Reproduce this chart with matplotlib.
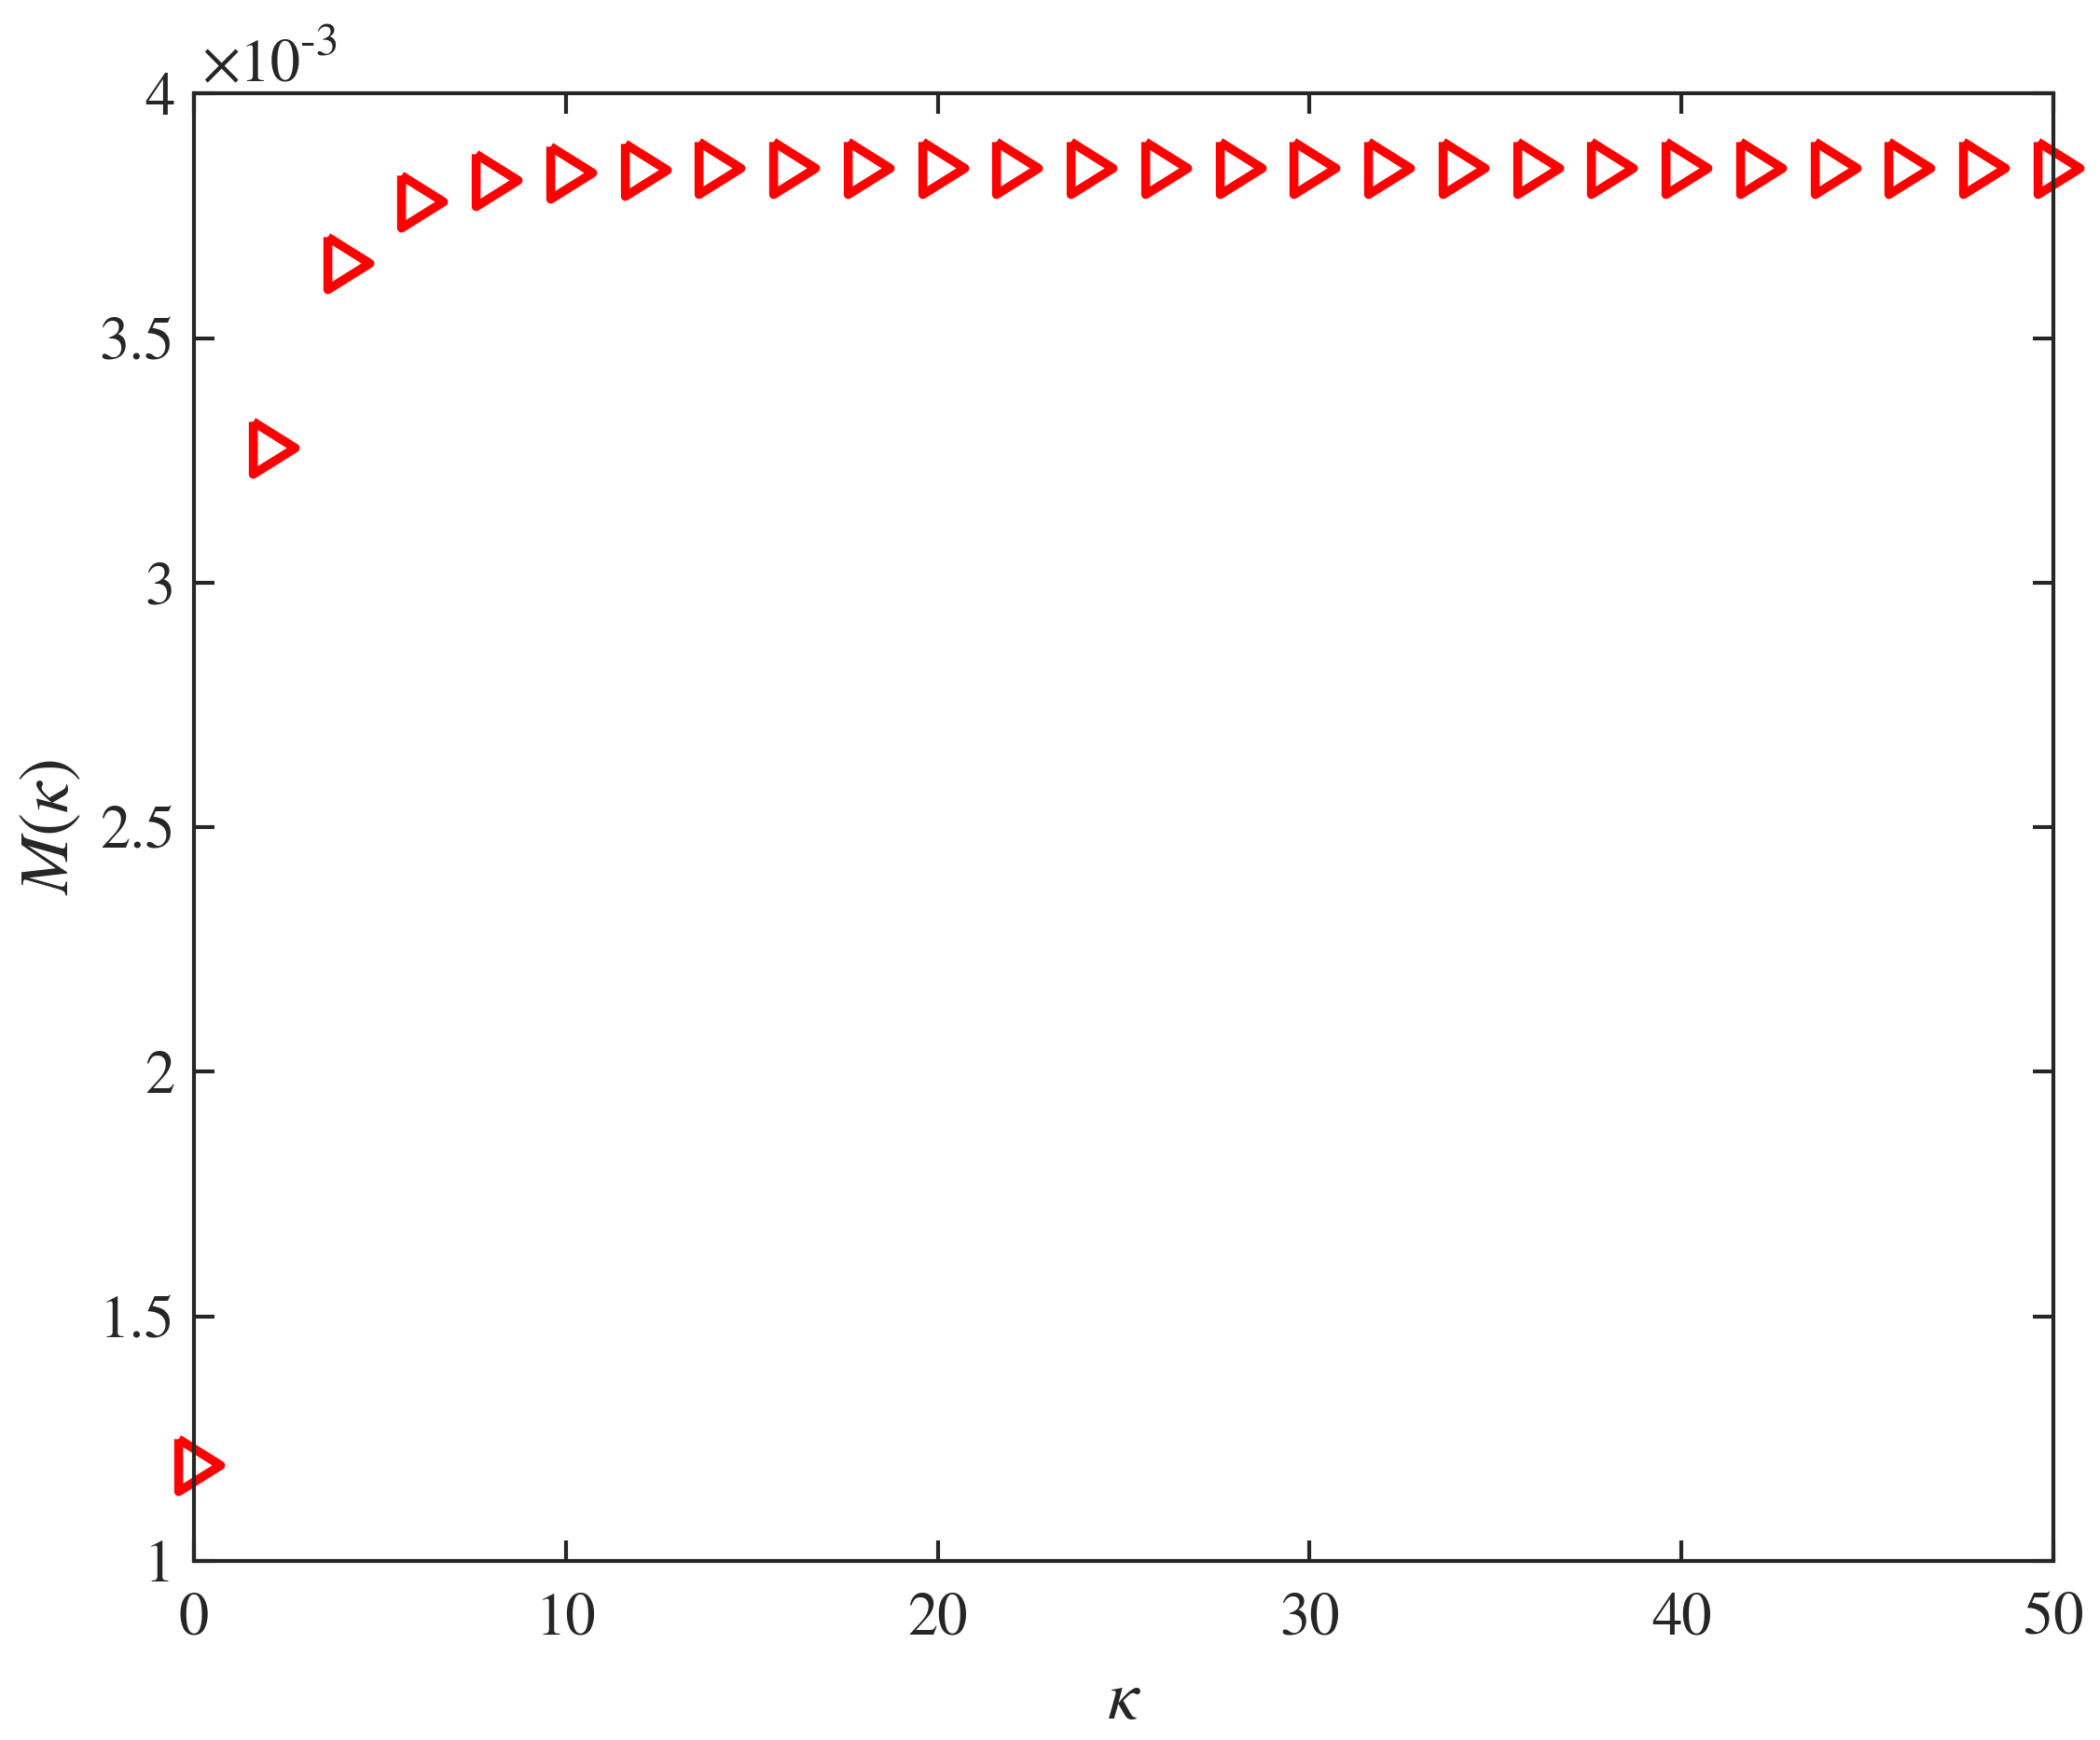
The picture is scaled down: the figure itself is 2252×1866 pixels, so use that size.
import numpy as np
import matplotlib
matplotlib.use('Agg')
import matplotlib.pyplot as plt

plt.rcParams['font.family'] = ['STIXGeneral', 'Liberation Serif', 'DejaVu Serif']
plt.rcParams['mathtext.fontset'] = 'stix'

# kappa values and M(kappa) in units of 1e-3
kappa = np.arange(0, 51, 2)
M = [1.196, 3.276, 3.654, 3.779, 3.823, 3.839, 3.845, 3.848, 3.848, 3.849,
     3.849, 3.849, 3.849, 3.849, 3.849, 3.849, 3.849, 3.849, 3.849, 3.849,
     3.849, 3.849, 3.849, 3.849, 3.849, 3.849]

xticks = [0, 10, 20, 30, 40, 50]
yticks = [1, 1.5, 2, 2.5, 3, 3.5, 4]
ytick_labels = ['1', '1.5', '2', '2.5', '3', '3.5', '4']

dark = '#262626'
fig = plt.figure(figsize=(2252/300, 1866/300), dpi=300)
ax = fig.add_axes([0.0924, 0.1029, 0.8854, 0.8433])

# open right-pointing triangle, slightly offset like MATLAB's '>' marker
tri = [(-0.6, 1), (1, 0), (-0.6, -1), (-0.6, 1)]
ax.plot(kappa, M, linestyle='none', marker=tri, markersize=13.5,
        markerfacecolor='none', markeredgecolor='#ff0000', markeredgewidth=2.3,
        clip_on=False)

ax.set_xlim(0, 50)
ax.set_ylim(1, 4)
ax.set_xticks(xticks)
ax.set_yticks(yticks)
ax.set_yticklabels(ytick_labels)
ax.tick_params(direction='in', length=5.3, width=1, colors=dark, labelsize=15.5,
               top=True, right=True)
ax.tick_params(axis='x', pad=8)
ax.tick_params(axis='y', pad=5)
for s in ax.spines.values():
    s.set_linewidth(1)
    s.set_color(dark)

ax.set_xlabel(r'$\kappa$', fontsize=18, color=dark, labelpad=6)
ax.set_ylabel(r'$M(\kappa)$', fontsize=18, color=dark, labelpad=4)

# scale factor annotation
ax.text(0.004, 1.0086, '\u00d710', transform=ax.transAxes, fontsize=15.5,
        color=dark, ha='left', va='baseline')
ax.text(0.057, 1.0257, '-3', transform=ax.transAxes, fontsize=12,
        color=dark, ha='left', va='baseline')

fig.savefig('out.png', dpi=300, facecolor='white')
